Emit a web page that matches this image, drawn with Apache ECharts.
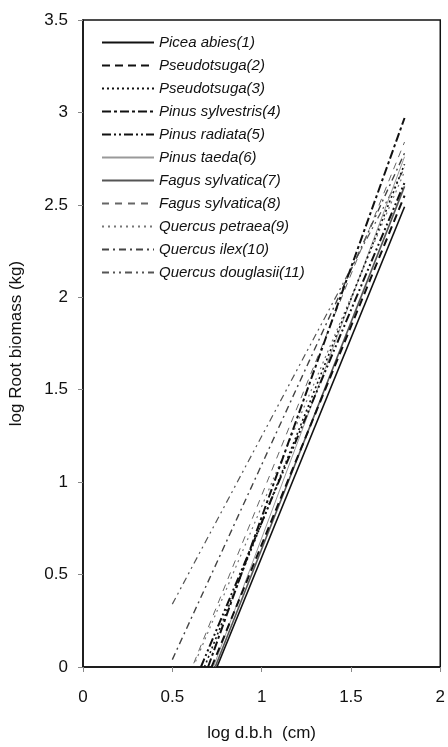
<!DOCTYPE html>
<html>
<head>
<meta charset="utf-8">
<script src="https://cdn.jsdelivr.net/npm/echarts@6/dist/echarts.min.js"></script>
<style>
  html, body { margin: 0; padding: 0; background: #fff; }
  #chart { width: 448px; height: 747px; }
</style>
</head>
<body>
<div id="chart"></div>
<script>
  // ===== 数据 =====
  const speciesNames = [
    "Picea abies(1)", "Pseudotsuga(2)", "Pseudotsuga(3)", "Pinus sylvestris(4)",
    "Pinus radiata(5)", "Pinus taeda(6)", "Fagus sylvatica(7)", "Fagus sylvatica(8)",
    "Quercus petraea(9)", "Quercus ilex(10)", "Quercus douglasii(11)"
  ];
  // start point (log dbh, log biomass) of each line
  const startX = [0.75, 0.72, 0.68, 0.70, 0.66, 0.73, 0.74, 0.62, 0.63, 0.50, 0.50];
  const startY = [0.00, 0.00, 0.00, 0.00, 0.00, 0.00, 0.00, 0.02, 0.03, 0.04, 0.34];
  // end point at log dbh = 1.8
  const endX = [1.8, 1.8, 1.8, 1.8, 1.8, 1.8, 1.8, 1.8, 1.8, 1.8, 1.8];
  const endY = [2.49, 2.55, 2.72, 2.97, 2.62, 2.76, 2.60, 2.84, 2.68, 2.78, 2.70];

  const xTicks = [0, 0.5, 1, 1.5, 2];
  const yTicks = [0, 0.5, 1, 1.5, 2, 2.5, 3, 3.5];

  // ===== 线型 =====
  const lineStyles = [
    { color: "#111", width: 1.6, type: "solid" },
    { color: "#111", width: 2, type: [8, 5] },
    { color: "#111", width: 1.6, type: [2, 3] },
    { color: "#111", width: 2, type: [9, 3, 3, 3] },
    { color: "#111", width: 2, type: [9, 3, 2, 3, 2, 3] },
    { color: "#999", width: 1, type: "solid" },
    { color: "#555", width: 1.6, type: "solid" },
    { color: "#666", width: 1, type: [7, 6] },
    { color: "#777", width: 1.2, type: [2, 4] },
    { color: "#444", width: 1.4, type: [7, 4, 2, 4] },
    { color: "#555", width: 1.2, type: [7, 4, 2, 4, 2, 4] }
  ];

  const FONT = "'Liberation Sans', Arial, sans-serif";

  const series = speciesNames.map((name, i) => ({
    name,
    type: "line",
    data: [[startX[i], startY[i]], [endX[i], endY[i]]],
    symbol: "none",
    lineStyle: lineStyles[i],
    itemStyle: { color: lineStyles[i].color },
    z: 20 - i
  }));

  const chart = echarts.init(document.getElementById("chart"), null, { renderer: "canvas" });
  chart.setOption({
    animation: false,
    grid: { left: 83, right: 6, top: 20, bottom: 74, show: true, borderColor: "#111", borderWidth: 1.5 },
    legend: {
      orient: "vertical",
      left: 96,
      top: 30,
      itemWidth: 52,
      itemHeight: 12,
      itemGap: 8,
      data: speciesNames,
      itemStyle: { opacity: 0 },
      textStyle: { fontFamily: FONT, fontSize: 15, fontStyle: "italic", color: "#111" }
    },
    xAxis: {
      type: "value",
      min: xTicks[0], max: xTicks[xTicks.length - 1], interval: 0.5,
      name: "log d.b.h  (cm)",
      nameLocation: "middle",
      nameGap: 58,
      nameTextStyle: { fontFamily: FONT, fontSize: 17, color: "#111" },
      axisLine: { show: true, lineStyle: { color: "#111", width: 1.5 } },
      axisTick: { show: true, length: 5, lineStyle: { color: "#888" } },
      axisLabel: { fontFamily: FONT, fontSize: 17, color: "#111", margin: 22, formatter: v => String(v) },
      splitLine: { show: false }
    },
    yAxis: {
      type: "value",
      min: yTicks[0], max: yTicks[yTicks.length - 1], interval: 0.5,
      name: "log Root biomass (kg)",
      nameLocation: "middle",
      nameGap: 58,
      nameTextStyle: { fontFamily: FONT, fontSize: 17, color: "#111" },
      axisLine: { show: true, lineStyle: { color: "#111", width: 1.5 } },
      axisTick: { show: true, length: 5, lineStyle: { color: "#888" } },
      axisLabel: { fontFamily: FONT, fontSize: 17, color: "#111", margin: 15, formatter: v => String(v) },
      splitLine: { show: false }
    },
    series
  });
</script>
</body>
</html>
